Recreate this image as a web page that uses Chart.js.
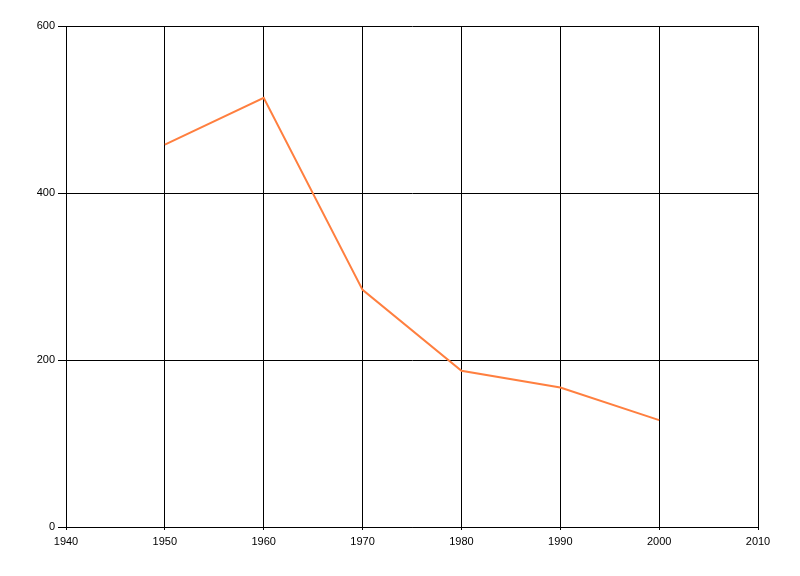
<!DOCTYPE html>
<html>
<head>
<meta charset="utf-8">
<script src="https://cdn.jsdelivr.net/npm/chart.js@4"></script>
<style>
  html, body { margin: 0; padding: 0; background: #fff; }
</style>
</head>
<body>
<canvas id="grafica" width="800" height="576"></canvas>
<script>
// años y valores
const anios = [1950, 1960, 1970, 1980, 1990, 2000];
const valores = [458, 514, 284, 187, 167, 128];
const ticksX = [1940, 1950, 1960, 1970, 1980, 1990, 2000, 2010];
const ticksY = [0, 200, 400, 600];

const puntos = anios.map((a, i) => ({ x: a, y: valores[i] }));

const ctx = document.getElementById('grafica').getContext('2d');
new Chart(ctx, {
    type: 'line',
    data: {
        datasets: [{
            data: puntos,
            borderColor: '#ff7f3f',
            borderWidth: 2,
            pointRadius: 0,
            tension: 0,
            fill: false
        }]
    },
    options: {
        responsive: false,
        animation: false,
        layout: { padding: { top: 26, right: 42, left: 0, bottom: 0 } },
        plugins: { legend: { display: false }, tooltip: { enabled: false } },
        scales: {
            x: {
                type: 'linear',
                min: 1940,
                max: 2010,
                afterBuildTicks: (scale) => { scale.ticks = ticksX.map(v => ({ value: v })); },
                afterFit: (scale) => { scale.height = 49; },
                grid: { color: '#000', lineWidth: 1, tickLength: 3, drawTicks: true },
                border: { color: '#000', width: 1 },
                ticks: {
                    color: '#000',
                    font: { family: 'Liberation Sans', size: 11 },
                    maxRotation: 0,
                    padding: 5,
                    callback: v => String(v)
                }
            },
            y: {
                min: 0,
                max: 600,
                afterBuildTicks: (scale) => { scale.ticks = ticksY.map(v => ({ value: v })); },
                afterFit: (scale) => { scale.width = 66; },
                grid: { color: '#000', lineWidth: 1, tickLength: 8 },
                border: { color: '#000', width: 1 },
                ticks: {
                    color: '#000',
                    font: { family: 'Liberation Sans', size: 11 },
                    padding: 3
                }
            }
        }
    }
});
</script>
</body>
</html>
